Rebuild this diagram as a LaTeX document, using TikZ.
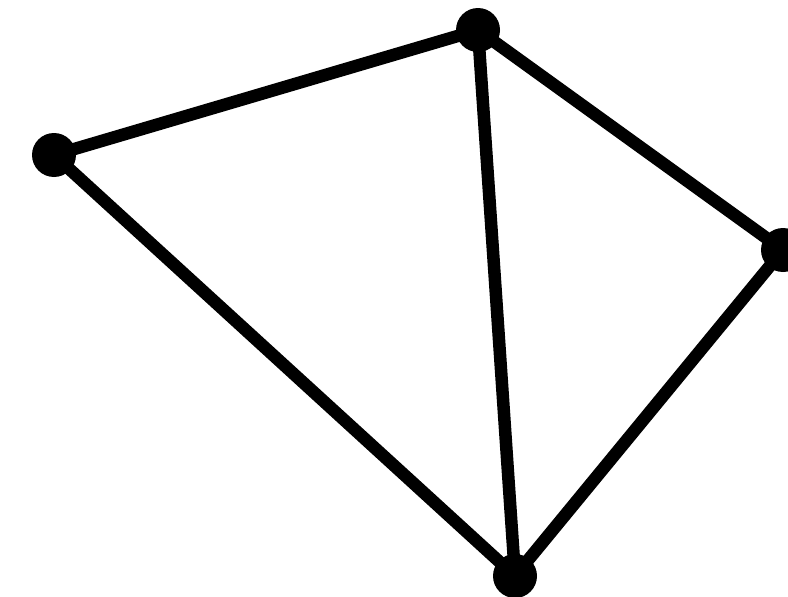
\documentclass[tikz,border=0pt]{standalone}
\begin{document}
\begin{tikzpicture}[x=1pt,y=-1pt,
  vert/.style={circle,fill=black,inner sep=0pt,minimum size=44pt},
  edge/.style={line width=12.5pt,black}]
\useasboundingbox (0,0) rectangle (788,597);
\node[vert] (a) at (54,155) {};
\node[vert] (b) at (478,30) {};
\node[vert] (c) at (783,250) {};
\node[vert] (d) at (515,576) {};
\draw[edge] (a.center) -- (b.center);
\draw[edge] (b.center) -- (c.center);
\draw[edge] (a.center) -- (d.center);
\draw[edge] (b.center) -- (d.center);
\draw[edge] (c.center) -- (d.center);
\end{tikzpicture}
\end{document}
